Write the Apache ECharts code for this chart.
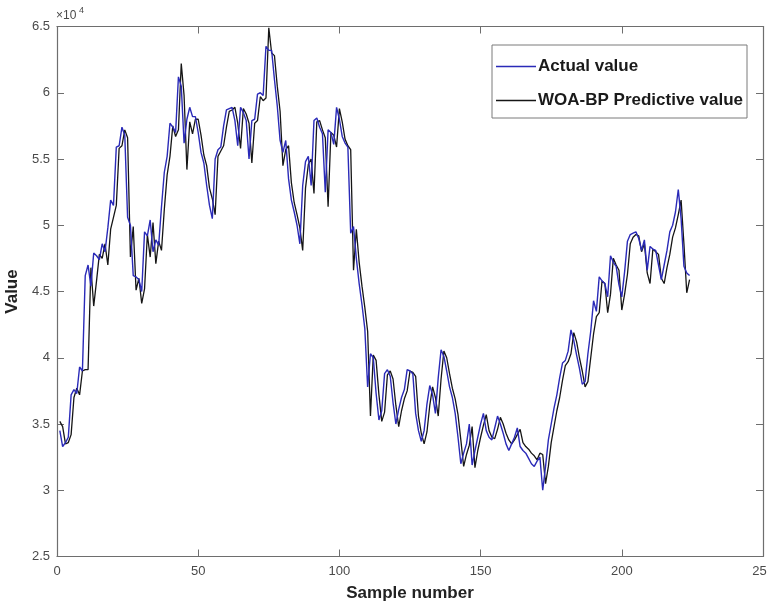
<!DOCTYPE html>
<html>
<head>
<meta charset="utf-8">
<script src="https://cdn.jsdelivr.net/npm/echarts@6/dist/echarts.min.js"></script>
<style>
html,body{margin:0;padding:0;background:#fff;}
#chart{width:767px;height:602px;}
</style>
</head>
<body>
<div id="chart"></div>
<script>
// Actual value (blue), samples 1..224
const actualValues = [
34500,33300,33600,34000,37200,37600,37300,39300,39000,46200,
47000,45400,47900,47700,47400,48600,48000,49800,51900,51500,
55900,56000,57400,56800,50600,50000,46200,46100,45900,45000,
49500,49200,50400,48000,48900,48500,51400,54000,55200,57700,
57400,57000,61200,60500,56200,58000,58900,58200,58200,57000,
55500,54700,53000,51500,50500,55000,55700,55900,57500,58700,
58800,58900,57900,56000,58900,58500,57900,55000,57900,58000,
59900,60000,59800,63500,63200,63200,61000,59000,56400,55500,
56400,53500,51900,51000,50000,48600,53000,54800,55200,53000,
57900,58100,57400,56900,52500,57200,57000,56100,58900,58000,
56700,56200,55900,49400,49900,47500,45600,44000,42200,37800,
40300,40000,37300,35300,36000,38800,39100,38600,36600,35000,
36100,37000,37600,39100,39000,38800,35800,34500,33700,34500,
36500,37900,37200,35800,38500,40600,40100,39000,37800,37000,
35800,34000,32000,32800,33500,35000,31900,33000,34000,35000,
35800,34500,34000,33800,34700,35600,35000,34300,33500,33000,
33500,34000,34700,33300,33000,32800,32400,32000,31800,32200,
32500,30000,31800,33800,35000,36200,37200,38500,39600,39800,
40500,42100,41300,40200,39200,38000,38200,40300,42000,44300,
43500,46100,45800,45600,44600,47700,47200,46900,45500,44600,
46500,48800,49300,49400,49500,49000,48100,48900,46600,48400,
48200,48100,47000,45900,47000,48100,49500,50000,51000,52700,
50500,46900,46400,46200
];
// WOA-BP predictive value (black), samples 1..224
const predictedValues = [
35200,34800,33500,33600,34200,37000,37700,37200,39000,39100,
39100,46800,43900,45800,47800,47500,48600,47000,49700,50600,
51500,55800,56000,57200,56600,47600,49900,45100,46000,44100,
45200,49300,47600,50200,47100,48800,48100,51200,53800,55200,
57500,56700,57200,62200,59800,54200,57800,56900,58000,58000,
56800,55300,54500,52800,52000,50800,55200,55600,56000,57400,
58600,58700,58900,57700,55800,58800,58400,57700,54700,57700,
57900,59700,59400,59600,64900,63000,62800,60500,58600,54500,
55700,56000,53200,51700,50800,49800,48100,52800,54600,55000,
52400,57800,57900,57200,56600,51400,57000,56800,55900,58800,
57800,56500,56000,55700,46600,49700,47200,45400,43800,42000,
35600,40200,39800,37200,35200,35900,38700,39000,38400,36400,
34800,36000,36900,37500,39000,38900,38600,35600,34300,33500,
34400,36400,37800,37000,35600,38400,40500,40000,38800,37700,
36900,35700,33800,31800,32700,33400,34800,31700,33000,34000,
34900,35700,34500,34000,33900,34600,35500,35000,34300,33800,
33500,33800,34200,34600,33600,33300,33100,32800,32600,32300,
32800,32700,30500,31800,33600,34800,36000,37000,38300,39400,
39700,40300,41900,41200,40000,39000,37800,38200,40000,41800,
43100,43400,45800,45600,43400,44800,47500,47000,46600,43600,
44800,46300,48600,49100,49300,49200,48000,48600,46400,45600,
48200,48000,47800,46000,45600,46800,47800,49100,49800,50800,
51900,48600,44900,45900
];
// Axis ticks
const xTicks = [0, 50, 100, 150, 200, 250];
const yTicks = [25000, 30000, 35000, 40000, 45000, 50000, 55000, 60000, 65000];

const actualData = actualValues.map((v, i) => [i + 1, v]);
const predictedData = predictedValues.map((v, i) => [i + 1, v]);

const axisColor = '#6e6e6e';
const labelColor = '#4a4a4a';
const font = '"Liberation Sans", Arial, sans-serif';

const chart = echarts.init(document.getElementById('chart'), null, {renderer: 'canvas'});
const xMin = xTicks[0], xMax = xTicks[xTicks.length - 1], xInt = xTicks[1] - xTicks[0];
const yMin = yTicks[0], yMax = yTicks[yTicks.length - 1], yInt = yTicks[1] - yTicks[0];

chart.setOption({
  animation: false,
  backgroundColor: '#ffffff',
  grid: {left: 57, right: 4, top: 26.5, bottom: 45.5, containLabel: false, outerBoundsMode: 'none'},
  legend: {
    orient: 'vertical',
    left: 492,
    top: 45,
    data: ['Actual value', 'WOA-BP Predictive value'],
    icon: 'rect',
    itemWidth: 40,
    itemHeight: 1.3,
    itemGap: 17,
    padding: [13, 4, 9, 4],
    borderColor: '#7a7a7a',
    borderWidth: 1,
    backgroundColor: '#ffffff',
    textStyle: {fontFamily: font, fontSize: 17, fontWeight: 'bold', color: '#1a1a1a', padding: [0, 0, 0, -3]}
  },
  xAxis: [{
    type: 'value', min: xMin, max: xMax, interval: xInt,
    name: 'Sample number', nameLocation: 'middle', nameGap: 28,
    nameTextStyle: {fontFamily: font, fontSize: 17, fontWeight: 'bold', color: '#222'},
    axisLine: {show: true, onZero: false, lineStyle: {color: axisColor, width: 1.2}},
    axisTick: {show: true, inside: true, length: 7, lineStyle: {color: axisColor}},
    axisLabel: {fontFamily: font, fontSize: 13, color: labelColor, margin: 8},
    splitLine: {show: false}
  }, {
    type: 'value', min: xMin, max: xMax, interval: xInt, position: 'top',
    axisLine: {show: true, onZero: false, lineStyle: {color: axisColor, width: 1.2}},
    axisTick: {show: true, inside: true, length: 7, lineStyle: {color: axisColor}},
    axisLabel: {show: false},
    splitLine: {show: false}
  }],
  yAxis: [{
    type: 'value', min: yMin, max: yMax, interval: yInt,
    name: 'Value', nameLocation: 'middle', nameGap: 30, nameRotate: 90,
    nameTextStyle: {fontFamily: font, fontSize: 17, fontWeight: 'bold', color: '#222'},
    axisLine: {show: true, onZero: false, lineStyle: {color: axisColor, width: 1.2}},
    axisTick: {show: true, inside: true, length: 7, lineStyle: {color: axisColor}},
    axisLabel: {fontFamily: font, fontSize: 13, color: labelColor, margin: 7,
      formatter: v => String(+(v / 10000).toFixed(1))},
    splitLine: {show: false}
  }, {
    type: 'value', min: yMin, max: yMax, interval: yInt, position: 'right',
    axisLine: {show: true, onZero: false, lineStyle: {color: axisColor, width: 1.2}},
    axisTick: {show: true, inside: true, length: 7, lineStyle: {color: axisColor}},
    axisLabel: {show: false},
    splitLine: {show: false}
  }],
  graphic: [
    {type: 'text', left: 56, top: 10, style: {text: '×10', fontFamily: font, fontSize: 12, fill: labelColor}},
    {type: 'text', left: 79, top: 6, style: {text: '4', fontFamily: font, fontSize: 9, fill: labelColor}}
  ],
  series: [{
    name: 'Actual value',
    type: 'line',
    data: actualData,
    xAxisIndex: 0, yAxisIndex: 0,
    symbol: 'none',
    lineStyle: {color: '#2a2ab8', width: 1.4},
    itemStyle: {color: '#2a2ab8'},
    z: 3
  }, {
    name: 'WOA-BP Predictive value',
    type: 'line',
    data: predictedData,
    xAxisIndex: 0, yAxisIndex: 0,
    symbol: 'none',
    lineStyle: {color: '#151515', width: 1.3},
    itemStyle: {color: '#151515'},
    z: 2
  }]
});
</script>
</body>
</html>
